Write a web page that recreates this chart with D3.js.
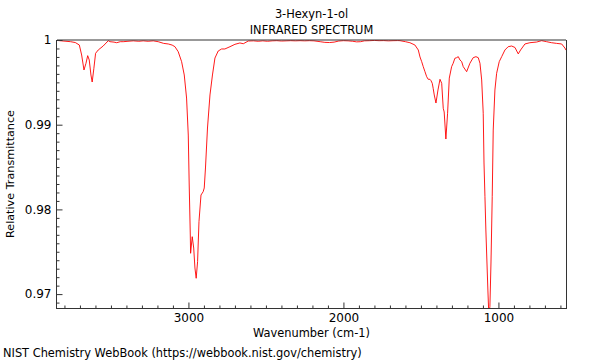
<!DOCTYPE html>
<html>
<head>
<meta charset="utf-8">
<script src="https://cdn.jsdelivr.net/npm/d3@7"></script>
<style>
  body { margin: 0; background: #fff; }
  svg { display: block; }
  text { font-family: "DejaVu Sans", sans-serif; fill: #000; }
</style>
</head>
<body>
<svg id="chart" width="600" height="360"></svg>
<script>
// ---- data ----
const titleLines = ["3-Hexyn-1-ol", "INFRARED SPECTRUM"];
const xLabel = "Wavenumber (cm-1)";
const yLabel = "Relative Transmittance";
const footer = "NIST Chemistry WebBook (https://webbook.nist.gov/chemistry)";

const xMajorTicks = [3000, 2000, 1000];
const xTickLabels = ["3000", "2000", "1000"];
const yMajorTicks = [0.97, 0.98, 0.99, 1];
const yTickLabels = ["0.97", "0.98", "0.99", "1"];

const wavenumber = [
  3848, 3820, 3790, 3760, 3730, 3704, 3689, 3674, 3661, 3650, 3640, 3629, 3621, 3610, 3599, 3582, 3550, 3517,
  3506, 3480, 3463, 3440, 3421, 3390, 3356, 3320, 3292, 3260, 3227, 3195, 3160, 3130, 3105, 3087, 3066, 3044,
  3027, 3012, 3001, 2995, 2988, 2986, 2975.5, 2966, 2958, 2950, 2941, 2932, 2919, 2905, 2898, 2890, 2877, 2861,
  2845, 2829, 2808, 2786, 2765, 2732, 2700, 2668, 2646, 2614,
  2580, 2550, 2520, 2490, 2460, 2430, 2400, 2370, 2340, 2310, 2280, 2250, 2220, 2190, 2150, 2120, 2090, 2060,
  2030, 2000, 1970, 1940, 1915, 1890, 1865, 1830, 1800, 1770, 1740, 1710, 1680, 1650, 1635, 1600, 1571, 1539,
  1517, 1506, 1495, 1485, 1474, 1463, 1453, 1442, 1435, 1427, 1421, 1414, 1403, 1390, 1377, 1366, 1356, 1350,
  1339, 1328, 1317, 1302, 1292, 1281, 1270, 1259, 1248, 1237, 1227, 1205, 1184, 1163, 1145, 1130, 1119, 1108,
  1098, 1093, 1087, 1081, 1068, 1062, 1055, 1048, 1040, 1033.5, 1022.6, 1011.6, 994.8, 979, 958, 937, 915,
  893.5, 872, 857, 829, 797, 753.5, 721, 689, 657, 624.5, 592, 571, 564
];
const transmittance = [
  0.99995, 0.9999, 0.99985, 0.9998, 0.9997, 0.99941, 0.99823, 0.99646, 0.99725, 0.99815, 0.99764, 0.99587, 0.99504, 0.99666, 0.99843, 0.99882, 0.99929, 0.99992,
  0.9998, 0.99975, 0.99968, 0.9998, 0.9998, 0.99985, 0.9999, 0.99985, 0.9999, 0.99985, 0.9999, 0.9998, 0.9996, 0.99953, 0.9994, 0.99921, 0.99862, 0.99744,
  0.99587, 0.99315, 0.98878, 0.98288, 0.97698, 0.97482, 0.97678, 0.97544, 0.97308, 0.97187, 0.97383, 0.97855, 0.98170, 0.98209, 0.98253, 0.98489, 0.98961, 0.99351,
  0.99587, 0.99787, 0.9987, 0.99894, 0.99894, 0.99921, 0.99949, 0.99965, 0.99956, 0.99988,
  0.9999, 0.99985, 0.9999, 0.99985, 0.9999, 0.99992, 0.99988, 0.9999, 0.99992, 0.9999, 0.99992, 0.9999, 0.99992, 0.9999, 0.9998, 0.99972, 0.9997, 0.99975,
  0.99988, 0.99992, 0.9999, 0.99985, 0.99978, 0.9998, 0.9999, 0.99992, 0.99995, 0.99992, 0.99993, 0.9999, 0.99992, 0.99993, 0.99992, 0.9998, 0.99968, 0.99941,
  0.99882, 0.9980, 0.99744, 0.99685, 0.99626, 0.99567, 0.99536, 0.99536, 0.9952, 0.99489, 0.99430, 0.99351, 0.99256, 0.99410, 0.99536, 0.99489, 0.99194, 0.9915,
  0.98831, 0.99135, 0.9955, 0.99685, 0.99725, 0.99784, 0.99791, 0.99803, 0.99764, 0.99744, 0.99685, 0.99626, 0.99725, 0.99791, 0.99803, 0.99791, 0.99725, 0.99528,
  0.99135, 0.98548, 0.9815, 0.97757, 0.97048, 0.9676, 0.96851, 0.97367, 0.98150, 0.98937, 0.99410, 0.99607, 0.99744, 0.99803, 0.99882, 0.99921, 0.99929,
  0.99912, 0.99836, 0.99882, 0.99953, 0.99968, 0.99976, 0.99992, 0.9998, 0.99968, 0.9996, 0.99953, 0.99905, 0.9988
];

// ---- layout ----
const svg = d3.select("#chart");
const m = { left: 57, right: 566, top: 40, bottom: 308 };
const labelSize = 11.4;

const x = d3.scaleLinear().domain([3848, 564]).range([m.left, m.right]);
const y = d3.scaleLinear().domain([0.96836, 1]).range([m.bottom, m.top]);

// clip
svg.append("clipPath").attr("id", "plotclip")
  .append("rect").attr("x", m.left).attr("y", m.top)
  .attr("width", m.right - m.left).attr("height", m.bottom - m.top);

// data line
const pts = wavenumber.map((w, i) => [w, transmittance[i]]);
const line = d3.line().x(d => x(d[0])).y(d => y(d[1]));
svg.append("path")
  .datum(pts)
  .attr("clip-path", "url(#plotclip)")
  .attr("fill", "none")
  .attr("stroke", "#ff0000")
  .attr("stroke-width", 0.9)
  .attr("d", line);

// frame: top and right
svg.append("line").attr("x1", m.left).attr("x2", m.right).attr("y1", m.top).attr("y2", m.top)
  .attr("stroke", "#333").attr("stroke-width", 1);
svg.append("line").attr("x1", m.right + 0.5).attr("x2", m.right + 0.5).attr("y1", m.top).attr("y2", m.bottom)
  .attr("stroke", "#333").attr("stroke-width", 1);

// x axis: minor ticks
const xMinor = d3.range(600, 3801, 100).filter(v => !xMajorTicks.includes(v));
svg.append("g").attr("transform", `translate(0,${m.bottom + 0.5})`)
  .call(d3.axisBottom(x).tickValues(xMinor).tickSize(-3).tickFormat(""))
  .call(g => g.select(".domain").remove())
  .selectAll("line").attr("stroke", "#333");
// x axis: major ticks
const gx = svg.append("g").attr("transform", `translate(0,${m.bottom + 0.5})`)
  .call(d3.axisBottom(x).tickValues(xMajorTicks).tickSize(-6).tickPadding(5)
    .tickFormat((d, i) => xTickLabels[i]))
  .call(g => g.select(".domain").attr("stroke", "#333").attr("d", `M${m.left},0H${m.right + 1}`));
gx.selectAll("line").attr("stroke", "#333");
gx.selectAll("text").attr("font-size", 12).style("font-family", "DejaVu Sans");

// y axis: minor ticks
const yMinor = d3.range(969, 1000, 1).map(v => v / 1000).filter(v => !yMajorTicks.some(t => Math.abs(t - v) < 1e-9));
svg.append("g").attr("transform", `translate(${m.left - 0.5},0)`)
  .call(d3.axisLeft(y).tickValues(yMinor).tickSize(-3).tickFormat(""))
  .call(g => g.select(".domain").remove())
  .selectAll("line").attr("stroke", "#333");
const gy = svg.append("g").attr("transform", `translate(${m.left - 0.5},0)`)
  .call(d3.axisLeft(y).tickValues(yMajorTicks).tickSize(-6).tickPadding(5)
    .tickFormat((d, i) => yTickLabels[i]))
  .call(g => g.select(".domain").attr("stroke", "#333").attr("d", `M0,${m.top}V${m.bottom + 1}`));
gy.selectAll("line").attr("stroke", "#333");
gy.selectAll("text").attr("font-size", 12).style("font-family", "DejaVu Sans");

// titles
const cx = (m.left + m.right) / 2;
svg.append("text").attr("x", cx).attr("y", 18).attr("text-anchor", "middle")
  .attr("font-size", labelSize).text(titleLines[0]);
svg.append("text").attr("x", cx).attr("y", 34).attr("text-anchor", "middle")
  .attr("font-size", labelSize).text(titleLines[1]);

// axis labels
svg.append("text").attr("x", cx).attr("y", 337).attr("text-anchor", "middle")
  .attr("font-size", labelSize).text(xLabel);
svg.append("text").attr("transform", `translate(14,${(m.top + m.bottom) / 2}) rotate(-90)`)
  .attr("text-anchor", "middle").attr("font-size", 11.2).text(yLabel);

// footer
svg.append("text").attr("x", 3).attr("y", 357).attr("font-size", labelSize).text(footer);
</script>
</body>
</html>
